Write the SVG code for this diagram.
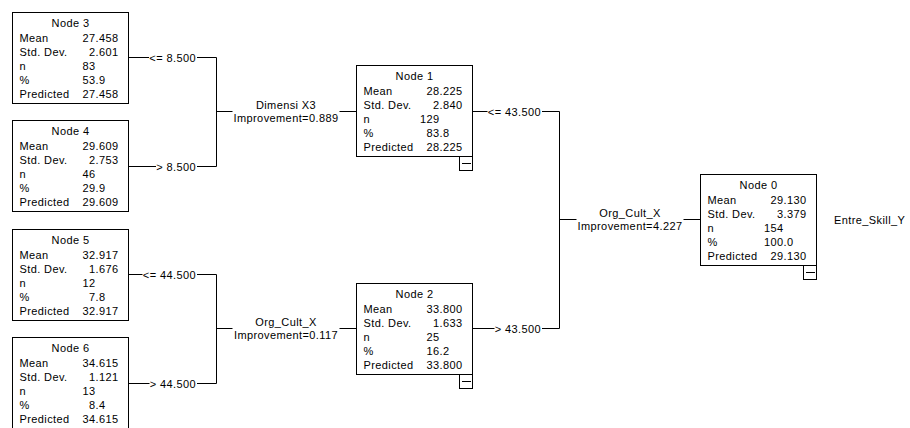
<svg xmlns="http://www.w3.org/2000/svg" width="910" height="428" viewBox="0 0 910 428">
<style>
text{font-family:"Liberation Sans",Arial,sans-serif;font-size:11px;letter-spacing:0.4px;fill:#000}
.box{fill:#fff;stroke:#000;stroke-width:1}
.mb{fill:#fff;stroke:#000;stroke-width:1}
.ln{fill:none;stroke:#000;stroke-width:1}
.t{text-anchor:middle}
.e{text-anchor:end}
</style>
<rect width="910" height="428" fill="#fff"/>
<g id="connectors" class="ln">
<path class="ln" d="M128.5 57.5H149M197 57.5H216.5V166.5H197M156 166.5H128.5"/>
<path class="ln" d="M216.5 111.5H232.5M339.5 111.5H356"/>
<path class="ln" d="M128.5 274.5H142.5M197 274.5H216.5V383.5H197M149.5 383.5H128.5"/>
<path class="ln" d="M216.5 328.5H232.5M339.5 328.5H356"/>
<path class="ln" d="M472.5 111.5H487.5M542 111.5H559.5V328.5H542M494.5 328.5H472.5"/>
<path class="ln" d="M559.5 219.5H576.5M683.5 219.5H700"/>
</g>
<g id="labels">
<text class="e" x="196" y="61.5">&lt;= 8.500</text>
<text class="e" x="196" y="170.5">&gt; 8.500</text>
<text class="e" x="196" y="278.5">&lt;= 44.500</text>
<text class="e" x="196" y="387.5">&gt; 44.500</text>
<text class="e" x="541" y="115.5">&lt;= 43.500</text>
<text class="e" x="541" y="332.5">&gt; 43.500</text>
<text class="t" x="286" y="108.8">Dimensi X3</text>
<text class="t" x="286" y="122.2">Improvement=0.889</text>
<text class="t" x="286" y="325.8">Org_Cult_X</text>
<text class="t" x="286" y="339.2">Improvement=0.117</text>
<text class="t" x="630" y="216.8">Org_Cult_X</text>
<text class="t" x="630" y="230.2">Improvement=4.227</text>
<text x="834" y="223.5">Entre_Skill_Y</text>
</g>
<g id="node3" transform="translate(12.5,12.5)">
<rect class="box" width="116" height="91"/>
<text class="t" x="58" y="14">Node 3</text>
<text x="7" y="29">Mean</text><text class="e" x="83" y="29">27</text><text x="83" y="29">.458</text>
<text x="7" y="43">Std. Dev.</text><text class="e" x="83" y="43">2</text><text x="83" y="43">.601</text>
<text x="7" y="57">n</text><text class="e" x="83" y="57">83</text>
<text x="7" y="71">%</text><text class="e" x="83" y="71">53</text><text x="83" y="71">.9</text>
<text x="7" y="85">Predicted</text><text class="e" x="83" y="85">27</text><text x="83" y="85">.458</text>
</g>
<g id="node4" transform="translate(12.5,120.5)">
<rect class="box" width="116" height="91"/>
<text class="t" x="58" y="14">Node 4</text>
<text x="7" y="29">Mean</text><text class="e" x="83" y="29">29</text><text x="83" y="29">.609</text>
<text x="7" y="43">Std. Dev.</text><text class="e" x="83" y="43">2</text><text x="83" y="43">.753</text>
<text x="7" y="57">n</text><text class="e" x="83" y="57">46</text>
<text x="7" y="71">%</text><text class="e" x="83" y="71">29</text><text x="83" y="71">.9</text>
<text x="7" y="85">Predicted</text><text class="e" x="83" y="85">29</text><text x="83" y="85">.609</text>
</g>
<g id="node5" transform="translate(12.5,229.5)">
<rect class="box" width="116" height="91"/>
<text class="t" x="58" y="14">Node 5</text>
<text x="7" y="29">Mean</text><text class="e" x="83" y="29">32</text><text x="83" y="29">.917</text>
<text x="7" y="43">Std. Dev.</text><text class="e" x="83" y="43">1</text><text x="83" y="43">.676</text>
<text x="7" y="57">n</text><text class="e" x="83" y="57">12</text>
<text x="7" y="71">%</text><text class="e" x="83" y="71">7</text><text x="83" y="71">.8</text>
<text x="7" y="85">Predicted</text><text class="e" x="83" y="85">32</text><text x="83" y="85">.917</text>
</g>
<g id="node6" transform="translate(12.5,337.5)">
<rect class="box" width="116" height="91"/>
<text class="t" x="58" y="14">Node 6</text>
<text x="7" y="29">Mean</text><text class="e" x="83" y="29">34</text><text x="83" y="29">.615</text>
<text x="7" y="43">Std. Dev.</text><text class="e" x="83" y="43">1</text><text x="83" y="43">.121</text>
<text x="7" y="57">n</text><text class="e" x="83" y="57">13</text>
<text x="7" y="71">%</text><text class="e" x="83" y="71">8</text><text x="83" y="71">.4</text>
<text x="7" y="85">Predicted</text><text class="e" x="83" y="85">34</text><text x="83" y="85">.615</text>
</g>
<g id="node1" transform="translate(356.5,65.5)">
<rect class="box" width="116" height="91"/>
<rect class="mb" x="103" y="91" width="13" height="14"/>
<path class="ln" d="M105.5 98H114.5"/>
<text class="t" x="58" y="14">Node 1</text>
<text x="7" y="29">Mean</text><text class="e" x="83" y="29">28</text><text x="83" y="29">.225</text>
<text x="7" y="43">Std. Dev.</text><text class="e" x="83" y="43">2</text><text x="83" y="43">.840</text>
<text x="7" y="57">n</text><text class="e" x="83" y="57">129</text>
<text x="7" y="71">%</text><text class="e" x="83" y="71">83</text><text x="83" y="71">.8</text>
<text x="7" y="85">Predicted</text><text class="e" x="83" y="85">28</text><text x="83" y="85">.225</text>
</g>
<g id="node2" transform="translate(356.5,283.5)">
<rect class="box" width="116" height="91"/>
<rect class="mb" x="103" y="91" width="13" height="14"/>
<path class="ln" d="M105.5 98H114.5"/>
<text class="t" x="58" y="14">Node 2</text>
<text x="7" y="29">Mean</text><text class="e" x="83" y="29">33</text><text x="83" y="29">.800</text>
<text x="7" y="43">Std. Dev.</text><text class="e" x="83" y="43">1</text><text x="83" y="43">.633</text>
<text x="7" y="57">n</text><text class="e" x="83" y="57">25</text>
<text x="7" y="71">%</text><text class="e" x="83" y="71">16</text><text x="83" y="71">.2</text>
<text x="7" y="85">Predicted</text><text class="e" x="83" y="85">33</text><text x="83" y="85">.800</text>
</g>
<g id="node0" transform="translate(700.5,174.5)">
<rect class="box" width="116" height="91"/>
<rect class="mb" x="103" y="91" width="13" height="14"/>
<path class="ln" d="M105.5 98H114.5"/>
<text class="t" x="58" y="14">Node 0</text>
<text x="7" y="29">Mean</text><text class="e" x="83" y="29">29</text><text x="83" y="29">.130</text>
<text x="7" y="43">Std. Dev.</text><text class="e" x="83" y="43">3</text><text x="83" y="43">.379</text>
<text x="7" y="57">n</text><text class="e" x="83" y="57">154</text>
<text x="7" y="71">%</text><text class="e" x="83" y="71">100</text><text x="83" y="71">.0</text>
<text x="7" y="85">Predicted</text><text class="e" x="83" y="85">29</text><text x="83" y="85">.130</text>
</g>
</svg>
